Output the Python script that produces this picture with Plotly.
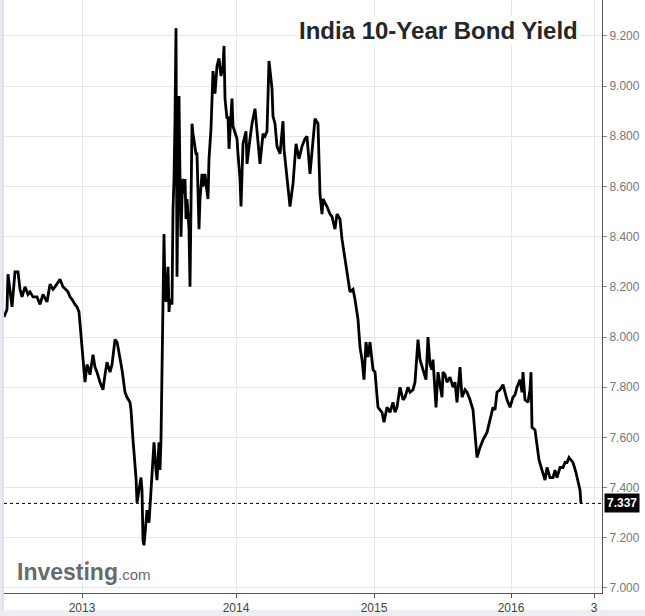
import plotly.graph_objects as go

# ---- data ----
# x: trading-session index along the chart's time axis
session = [
    4, 7, 8, 10, 12, 15, 18, 20, 22, 25, 28, 30, 33, 37, 40, 43, 47, 50, 53, 55, 58, 60,
    63, 66, 68, 70, 72, 75, 77, 79,
    82, 84, 85, 87, 88, 90, 93, 95, 97, 100, 103, 105, 107, 110, 112, 115, 117, 118, 120,
    122, 125, 127, 130, 131, 133, 135, 136, 137, 139, 141, 142, 143, 144, 146, 147, 149,
    150, 152, 154, 156, 157, 159, 160, 161, 162, 163, 164, 165, 166, 168, 169, 170, 171,
    172, 173, 174, 175, 176, 177, 178, 179, 180, 181, 182, 183, 184, 185, 186, 187, 188,
    189, 190, 191, 192, 193, 195, 196, 197, 198, 199, 200, 202, 203, 205, 206, 208, 209,
    211, 213, 215, 217, 219, 221, 223, 224, 225, 227, 228, 229, 231, 232, 233, 235, 237,
    238, 240, 241, 243, 246, 247, 250, 252, 255, 257, 258, 260, 263, 265, 267, 268, 269,
    272, 273, 275, 277, 280, 283, 284, 287, 290, 293, 296, 299, 302, 305, 307, 310, 313,
    315, 318, 320, 322, 323, 327, 330, 332, 335, 337, 340, 342, 345, 348, 350, 353, 355,
    358, 360, 362, 364, 366, 368, 370, 373, 375, 378, 380, 382, 384, 387, 390, 393, 395,
    397, 400, 403, 405, 407, 408, 410, 413, 415, 416, 418, 420, 423, 426, 428, 430, 432,
    433, 436, 438, 440, 442, 443, 445, 447, 450, 453, 455, 457, 460, 462, 465, 467, 470,
    473, 475, 477, 480, 483, 487, 490, 493, 495, 497, 500, 503, 505, 507, 510, 513, 515,
    517, 520, 522, 523, 525, 528, 530, 531, 532, 535, 537, 539, 542, 545, 547, 550, 553,
    555, 557, 560, 563, 565, 567, 569, 571, 573, 576, 578, 580, 581,
]
yield_pct = [
    8.08, 8.11, 8.25, 8.17, 8.12, 8.26, 8.26, 8.19, 8.16, 8.20, 8.17, 8.18, 8.16, 8.16, 8.13,
    8.17, 8.14, 8.21, 8.19, 8.20, 8.22, 8.23,
    8.20, 8.19, 8.18, 8.16, 8.15, 8.13, 8.12, 8.10,
    7.95, 7.87, 7.82, 7.89, 7.88, 7.85, 7.93, 7.88, 7.86, 7.82, 7.79, 7.85, 7.90, 7.86, 7.89,
    7.99, 7.98, 7.96, 7.92,
    7.87, 7.78, 7.76, 7.74, 7.71, 7.59, 7.49, 7.44, 7.34, 7.39, 7.44, 7.39, 7.19, 7.17, 7.29,
    7.31, 7.26,
    7.33, 7.43, 7.58, 7.47, 7.43, 7.58, 7.47, 7.59, 7.92, 8.06, 8.41, 8.19, 8.14, 8.28, 8.10,
    8.15, 8.14,
    8.13, 8.51, 8.63, 8.87, 9.23, 8.24, 8.55, 8.96, 8.63, 8.40, 8.55, 8.63, 8.57, 8.63, 8.47,
    8.55, 8.49,
    8.43, 8.20, 8.55, 8.85, 8.81, 8.76, 8.73, 8.73, 8.59, 8.43, 8.55, 8.65, 8.60, 8.65, 8.61,
    8.55, 8.71,
    8.83, 9.06, 8.97, 9.08, 9.11, 9.04, 9.08, 9.16, 8.95, 8.87, 8.88, 8.75, 8.87, 8.95, 8.84,
    8.81, 8.79,
    8.73, 8.63, 8.52, 8.77, 8.82, 8.69, 8.79, 8.85, 8.91, 8.83, 8.79, 8.69, 8.81, 8.80, 8.82,
    8.98, 9.10,
    8.99, 8.88, 8.85, 8.76, 8.73, 8.86, 8.75, 8.64, 8.52, 8.61, 8.77, 8.71, 8.76, 8.79, 8.80,
    8.65, 8.77,
    8.87, 8.85, 8.57, 8.49, 8.55, 8.52, 8.49, 8.48, 8.43, 8.49, 8.47, 8.39, 8.31, 8.23, 8.18,
    8.19, 8.15,
    8.07, 7.96, 7.91, 7.83, 7.98, 7.92, 7.98, 7.87, 7.86, 7.72, 7.71, 7.70, 7.66, 7.72, 7.70,
    7.74, 7.70,
    7.72, 7.80, 7.75, 7.76, 7.79, 7.80, 7.78, 7.79, 7.82, 7.87, 7.99, 7.91, 7.87, 7.83, 8.00,
    7.89, 7.87,
    7.91, 7.72, 7.86, 7.81, 7.76, 7.86, 7.85, 7.82, 7.84, 7.80, 7.82, 7.74, 7.88, 7.76, 7.79,
    7.78, 7.75,
    7.71, 7.63, 7.52, 7.56, 7.59, 7.62, 7.67, 7.72, 7.71, 7.78, 7.79, 7.81, 7.78, 7.75, 7.72,
    7.76, 7.77,
    7.80, 7.83, 7.78, 7.86, 7.75, 7.74, 7.79, 7.86, 7.64, 7.63, 7.56, 7.51, 7.47, 7.43, 7.48,
    7.44, 7.44,
    7.47, 7.44, 7.48, 7.48, 7.50, 7.50, 7.52, 7.51, 7.50, 7.46, 7.43, 7.39, 7.337,
]
year_tick_pos = [82, 236, 374, 511, 594]
year_tick_text = ["2013", "2014", "2015", "2016", "3"]
y_tick_vals = [7.0, 7.2, 7.4, 7.6, 7.8, 8.0, 8.2, 8.4, 8.6, 8.8, 9.0, 9.2]
y_tick_text = ["%.3f" % v for v in y_tick_vals]
last_value = 7.337
chart_title = "India 10-Year Bond Yield"

FONT = "Liberation Sans, Arial, sans-serif"
W, H = 645, 616
ML, MR, MT, MB = 4, 43, 0, 23
PW, PH = W - ML - MR, H - MT - MB

def px_to_paper_x(px):
    return (px - ML) / PW

def px_to_paper_y(py):
    return (H - MB - py) / PH

fig = go.Figure()
fig.add_trace(go.Scatter(
    x=session, y=yield_pct, mode="lines",
    line=dict(color="#000000", width=2.8),
    hoverinfo="skip", showlegend=False,
))

shapes = [
    dict(type="line", xref="paper", x0=0, x1=1, yref="y", y0=last_value, y1=last_value,
         line=dict(color="#000000", width=1, dash="dot"), layer="above"),
    dict(type="rect", xref="paper", x0=px_to_paper_x(0), x1=px_to_paper_x(W),
         yref="paper", y0=px_to_paper_y(H), y1=px_to_paper_y(610),
         fillcolor="#eceef2", line=dict(width=0), layer="below"),
    dict(type="rect", xref="paper", x0=px_to_paper_x(0), x1=px_to_paper_x(3),
         yref="paper", y0=px_to_paper_y(H), y1=px_to_paper_y(0),
         fillcolor="#e9ebf0", line=dict(width=0), layer="below"),
    dict(type="line", xref="paper", x0=px_to_paper_x(3), x1=px_to_paper_x(3),
         yref="paper", y0=px_to_paper_y(610), y1=px_to_paper_y(0),
         line=dict(color="#c9ccd3", width=1)),
    dict(type="circle", xref="paper", yref="paper",
         x0=px_to_paper_x(85.5), x1=px_to_paper_x(89),
         y0=px_to_paper_y(564), y1=px_to_paper_y(560.5),
         fillcolor="#f5a623", line=dict(width=0), layer="above"),
]

annotations = [
    dict(xref="paper", yref="paper", x=px_to_paper_x(438), y=px_to_paper_y(30),
         xanchor="center", yanchor="middle", showarrow=False,
         text="<b>%s</b>" % chart_title, bgcolor="#ffffff",
         font=dict(family=FONT, size=24, color="#262626")),
    dict(xref="paper", yref="y", x=1, y=last_value, xanchor="left", yanchor="middle",
         xshift=2, showarrow=False, text="<b>%.3f</b>" % last_value,
         bgcolor="#000000", borderpad=2,
         font=dict(family=FONT, size=12, color="#ffffff")),
    dict(xref="paper", yref="paper", x=px_to_paper_x(15), y=px_to_paper_y(572),
         xanchor="left", yanchor="middle", showarrow=False,
         text="<b>Investing</b><span style='font-size:15px'>.com</span>",
         font=dict(family=FONT, size=23, color="#6a6a6a")),
]

fig.update_layout(
    width=W, height=H,
    margin=dict(l=ML, r=MR, t=MT, b=MB, pad=0),
    paper_bgcolor="#ffffff", plot_bgcolor="#ffffff",
    font=dict(family=FONT, size=12, color="#555555"),
    shapes=shapes, annotations=annotations,
    xaxis=dict(
        range=[4, 602], tickmode="array", tickvals=year_tick_pos, ticktext=year_tick_text,
        showgrid=True, gridcolor="#e6e6e6", gridwidth=1, zeroline=False,
        showline=True, linecolor="#555555", linewidth=1,
        ticks="outside", ticklen=4, tickcolor="#555555",
        tickfont=dict(family=FONT, size=12, color="#444444"), fixedrange=True,
    ),
    yaxis=dict(
        side="right", range=[6.980, 9.343], tickmode="array",
        tickvals=y_tick_vals, ticktext=y_tick_text,
        showgrid=True, gridcolor="#e6e6e6", gridwidth=1, zeroline=False,
        showline=True, linecolor="#555555", linewidth=1,
        ticks="outside", ticklen=4, tickcolor="#888888",
        tickfont=dict(family=FONT, size=12, color="#777777"), fixedrange=True,
    ),
)

fig.write_html("out.html")
